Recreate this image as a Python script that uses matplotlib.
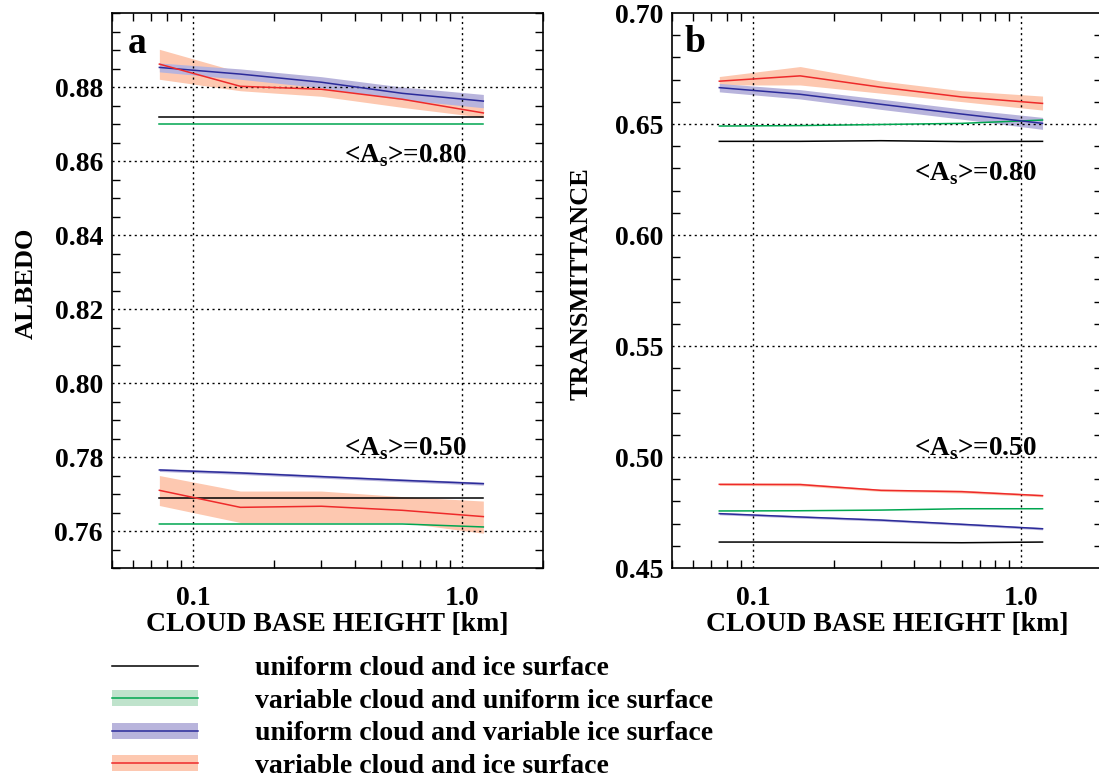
import numpy as np
import matplotlib
matplotlib.use('Agg')
import matplotlib.pyplot as plt
from matplotlib.lines import Line2D
from matplotlib.legend_handler import HandlerTuple
from matplotlib.ticker import FixedLocator, LogLocator, MultipleLocator, NullFormatter

plt.rcParams['font.family'] = ['Liberation Serif', 'DejaVu Serif']
plt.rcParams['font.weight'] = 'bold'
plt.rcParams['mathtext.fontset'] = 'custom'
plt.rcParams['mathtext.rm'] = 'Liberation Serif'

# cloud base height [km]
cbh = [0.075, 0.15, 0.3, 0.6, 1.2]

# ---- albedo, <As>=0.80
alb80_unif = [0.872, 0.872, 0.872, 0.872, 0.872]
alb80_vcloud = [0.870, 0.870, 0.870, 0.870, 0.870]
alb80_vice = [0.8853, 0.8835, 0.8813, 0.8783, 0.8762]
alb80_vice_lo = [0.8841, 0.8821, 0.8798, 0.8766, 0.8744]
alb80_vice_hi = [0.8865, 0.8849, 0.8828, 0.8800, 0.8780]
alb80_both = [0.8862, 0.8802, 0.8794, 0.8767, 0.8730]
alb80_both_lo = [0.8821, 0.8790, 0.8775, 0.8745, 0.8718]
alb80_both_hi = [0.8902, 0.8840, 0.8815, 0.8790, 0.8749]

# ---- albedo, <As>=0.50
alb50_unif = [0.769, 0.769, 0.769, 0.769, 0.769]
alb50_vcloud = [0.7619, 0.7619, 0.7619, 0.7619, 0.7611]
alb50_vice = [0.7765, 0.7757, 0.7747, 0.7737, 0.7728]
alb50_vice_lo = [0.7761, 0.7753, 0.7743, 0.7733, 0.7724]
alb50_vice_hi = [0.7769, 0.7761, 0.7751, 0.7741, 0.7732]
alb50_both = [0.7710, 0.7664, 0.7667, 0.7656, 0.7639]
alb50_both_lo = [0.7669, 0.7623, 0.7623, 0.7623, 0.7594]
alb50_both_hi = [0.7750, 0.7708, 0.7708, 0.7693, 0.7681]

# ---- transmittance, <As>=0.80
tr80_unif = [0.6422, 0.6422, 0.6425, 0.6421, 0.6422]
tr80_vcloud = [0.6491, 0.6493, 0.6498, 0.6503, 0.6518]
tr80_vice = [0.6664, 0.6634, 0.6589, 0.6545, 0.6503]
tr80_vice_lo = [0.6645, 0.6613, 0.6566, 0.6522, 0.6476]
tr80_vice_hi = [0.6683, 0.6655, 0.6612, 0.6568, 0.6530]
tr80_both = [0.6693, 0.6717, 0.6666, 0.6622, 0.6593]
tr80_both_lo = [0.6676, 0.6676, 0.6639, 0.6601, 0.6563]
tr80_both_hi = [0.6714, 0.6759, 0.6694, 0.6650, 0.6626]

# ---- transmittance, <As>=0.50
tr50_unif = [0.4617, 0.4617, 0.4616, 0.4614, 0.4617]
tr50_vcloud = [0.4757, 0.4758, 0.4761, 0.4767, 0.4767]
tr50_vice = [0.4745, 0.4730, 0.4716, 0.4697, 0.4677]
tr50_vice_lo = [0.4740, 0.4725, 0.4711, 0.4692, 0.4672]
tr50_vice_hi = [0.4750, 0.4735, 0.4721, 0.4702, 0.4682]
tr50_both = [0.4877, 0.4876, 0.4850, 0.4844, 0.4826]
tr50_both_lo = [0.4872, 0.4870, 0.4845, 0.4838, 0.4821]
tr50_both_hi = [0.4882, 0.4883, 0.4855, 0.4851, 0.4831]

labels = ['uniform cloud and ice surface',
          'variable cloud and uniform ice surface',
          'uniform cloud and variable ice surface',
          'variable cloud and ice surface']

c_black = 'black'
c_green, c_green_band = '#00a650', '#bfe3cc'
c_blue, c_blue_band = '#2b2b9a', '#b8b4dc'
c_red, c_red_band = '#ee2a2a', '#fdc8b0'

fig = plt.figure(figsize=(10.99, 7.81), dpi=100)
ax_a = fig.add_axes([0.1019, 0.2727, 0.3922, 0.7106])
ax_b = fig.add_axes([0.6115, 0.2727, 0.3913, 0.7106])


def draw_group(ax, unif, vcloud, vice, vice_lo, vice_hi, both, both_lo, both_hi):
    ax.fill_between(cbh, both_lo, both_hi, color=c_red_band, lw=0)
    ax.fill_between(cbh, vice_lo, vice_hi, color=c_blue_band, lw=0)
    ax.plot(cbh, unif, color=c_black, lw=1.1)
    ax.plot(cbh, vcloud, color=c_green, lw=1.1)
    ax.plot(cbh, vice, color=c_blue, lw=1.1)
    ax.plot(cbh, both, color=c_red, lw=1.1)


draw_group(ax_a, alb80_unif, alb80_vcloud, alb80_vice, alb80_vice_lo, alb80_vice_hi,
           alb80_both, alb80_both_lo, alb80_both_hi)
draw_group(ax_a, alb50_unif, alb50_vcloud, alb50_vice, alb50_vice_lo, alb50_vice_hi,
           alb50_both, alb50_both_lo, alb50_both_hi)
draw_group(ax_b, tr80_unif, tr80_vcloud, tr80_vice, tr80_vice_lo, tr80_vice_hi,
           tr80_both, tr80_both_lo, tr80_both_hi)
draw_group(ax_b, tr50_unif, tr50_vcloud, tr50_vice, tr50_vice_lo, tr50_vice_hi,
           tr50_both, tr50_both_lo, tr50_both_hi)

ax_a.set_ylim(0.75, 0.90)
ax_a.yaxis.set_major_locator(FixedLocator([0.76, 0.78, 0.80, 0.82, 0.84, 0.86, 0.88]))
ax_a.yaxis.set_minor_locator(MultipleLocator(0.005))
ax_a.set_yticklabels(['0.76', '0.78', '0.80', '0.82', '0.84', '0.86', '0.88'])

ax_b.set_ylim(0.45, 0.70)
ax_b.yaxis.set_major_locator(FixedLocator([0.45, 0.50, 0.55, 0.60, 0.65, 0.70]))
ax_b.yaxis.set_minor_locator(MultipleLocator(0.01))
ax_b.set_yticklabels(['0.45', '0.50', '0.55', '0.60', '0.65', '0.70'])

for ax, ylab, lx in [(ax_a, 'ALBEDO', -0.172), (ax_b, 'TRANSMITTANCE', -0.184)]:
    ax.set_xscale('log')
    ax.set_xlim(0.05, 2.0)
    ax.xaxis.set_major_locator(FixedLocator([0.1, 1.0]))
    ax.set_xticklabels(['0.1', '1.0'])
    ax.xaxis.set_minor_locator(LogLocator(base=10, subs=np.arange(2, 10)))
    ax.xaxis.set_minor_formatter(NullFormatter())
    ax.tick_params(which='both', direction='in', top=True, right=True,
                   labelsize=20, width=1)
    ax.tick_params(axis='x', which='major', length=0, pad=13)
    ax.tick_params(axis='y', which='major', length=0, pad=6.5)
    ax.tick_params(which='minor', length=6)
    for lab in ax.get_xticklabels() + ax.get_yticklabels():
        lab.set_fontweight('bold')
    ax.grid(True, which='major', linestyle=(0, (1.5, 2.5)), color='black', lw=1)
    for s in ax.spines.values():
        s.set_linewidth(1.2)
    ax.set_xlabel('CLOUD BASE HEIGHT [km]', fontsize=20, fontweight='bold')
    ax.xaxis.set_label_coords(0.5, -0.079)
    ax.set_ylabel(ylab, fontsize=19, fontweight='bold')
    ax.yaxis.set_label_coords(lx, 0.513)

# hide gridlines lying on the frame of panel b
for gl in ax_b.get_ygridlines():
    y = gl.get_ydata()[0]
    if y <= 0.45 or y >= 0.70:
        gl.set_visible(False)

ax_a.text(0.037, 0.928, 'a', transform=ax_a.transAxes, fontsize=27, fontweight='bold')
ax_b.text(0.028, 0.930, 'b', transform=ax_b.transAxes, fontsize=27, fontweight='bold')

as_kw = dict(ha='center', va='baseline', fontsize=19.5, fontweight='bold')
ax_a.text(0.68, 0.7315, '<A$_\\mathrm{s}$>=0.80', transform=ax_a.transAxes, **as_kw)
ax_a.text(0.68, 0.2036, '<A$_\\mathrm{s}$>=0.50', transform=ax_a.transAxes, **as_kw)
ax_b.text(0.705, 0.699, '<A$_\\mathrm{s}$>=0.80', transform=ax_b.transAxes, **as_kw)
ax_b.text(0.705, 0.2036, '<A$_\\mathrm{s}$>=0.50', transform=ax_b.transAxes, **as_kw)

band_lw = 11.5
handles = [
    Line2D([], [], color=c_black, lw=1.1),
    (Line2D([], [], color=c_green_band, lw=band_lw, solid_capstyle='butt'),
     Line2D([], [], color=c_green, lw=1.1)),
    (Line2D([], [], color=c_blue_band, lw=band_lw, solid_capstyle='butt'),
     Line2D([], [], color=c_blue, lw=1.1)),
    (Line2D([], [], color=c_red_band, lw=band_lw, solid_capstyle='butt'),
     Line2D([], [], color=c_red, lw=1.1)),
]
fig.legend(handles, labels, loc='upper left', bbox_to_anchor=(0.1019, 0.160),
           frameon=False, prop={'family': 'Liberation Serif', 'weight': 'bold', 'size': 20},
           handlelength=3.1, handletextpad=2.05, labelspacing=0.25,
           borderpad=0, borderaxespad=0,
           handler_map={tuple: HandlerTuple(ndivide=1, pad=0)})

fig.savefig('out.png', dpi=100)
